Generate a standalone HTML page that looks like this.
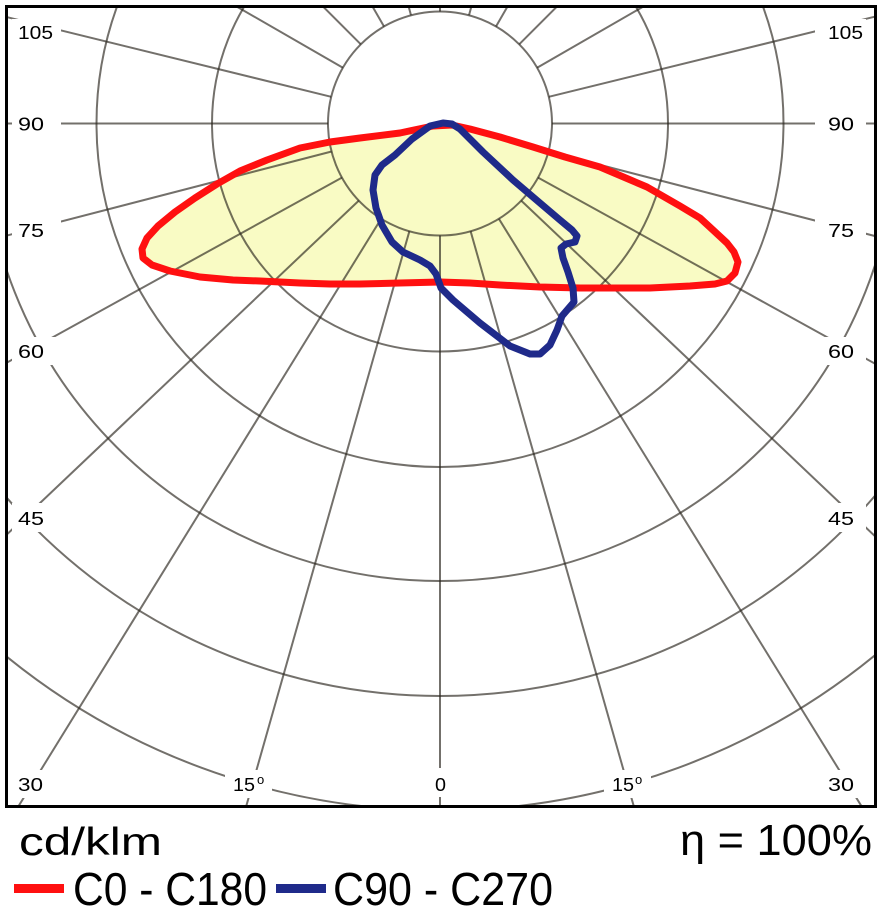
<!DOCTYPE html>
<html><head><meta charset="utf-8"><style>
html,body{margin:0;padding:0;background:#fff;width:881px;height:923px;overflow:hidden;}
svg{display:block;}
text{font-family:"Liberation Sans",sans-serif;fill:#000;}
</style></head><body>
<svg width="881" height="923" viewBox="0 0 881 923" xmlns="http://www.w3.org/2000/svg" overflow="hidden">
<defs><clipPath id="cp"><rect x="8" y="8" width="866" height="797"/></clipPath></defs>
<rect x="0" y="0" width="881" height="923" fill="#fff"/>
<g clip-path="url(#cp)">
<path d="M433,126 L452,125 L470,129 L500,137 L533,147 L565,157 L600,167 L647,187 L680,206 L700,218 L713,230 L727,243 L734,252 L738,262 L735,273 L727,281 L715,284 L690,286 L650,288 L613,288 L580,288 L540,287 L500,285 L470,283 L440,282 L400,283 L360,284 L330,284 L300,283 L260,281 L233,280 L200,277 L170,271 L152,265 L143,258 L142,249 L147,238 L158,226 L175,212 L195,198 L217,184 L240,171 L267,160 L300,148 L330,142 L360,138 L400,133 Z" fill="#f9fbc4" stroke="none"/>
<g stroke="rgb(40,36,28)" stroke-opacity="0.65" stroke-width="2" fill="none">
<circle cx="440" cy="123.5" r="112"/>
<circle cx="440" cy="123.5" r="228"/>
<circle cx="440" cy="123.5" r="343.5"/>
<circle cx="440" cy="123.5" r="457.5"/>
<circle cx="440" cy="123.5" r="572.5"/>
<path d="M4,654.4 A687,687 0 0 0 876,654.4"/>
<line x1="440" y1="235.5" x2="440" y2="807"/>
<line x1="440" y1="11.5" x2="440" y2="6"/>
<line x1="470.6" y1="231.2" x2="634" y2="807"/>
<line x1="409.4" y1="231.2" x2="246" y2="807"/>
<line x1="498.9" y1="218.8" x2="862" y2="807"/>
<line x1="381.1" y1="218.8" x2="18" y2="807"/>
<line x1="521.2" y1="200.6" x2="876" y2="537.2"/>
<line x1="358.8" y1="200.6" x2="4" y2="537.2"/>
<line x1="538.1" y1="177.6" x2="876" y2="364.2"/>
<line x1="341.9" y1="177.6" x2="4" y2="364.2"/>
<line x1="548.4" y1="151.5" x2="876" y2="236.3"/>
<line x1="331.6" y1="151.5" x2="4" y2="236.3"/>
<line x1="552" y1="123.5" x2="876" y2="123.5"/>
<line x1="328" y1="123.5" x2="4" y2="123.5"/>
<line x1="548.8" y1="96.8" x2="876" y2="16.4"/>
<line x1="331.2" y1="96.8" x2="4" y2="16.4"/>
<line x1="537.1" y1="67.7" x2="644.3" y2="6"/>
<line x1="342.9" y1="67.7" x2="235.7" y2="6"/>
<line x1="519.2" y1="44.3" x2="557.5" y2="6"/>
<line x1="360.8" y1="44.3" x2="322.5" y2="6"/>
<line x1="496" y1="26.5" x2="507.8" y2="6"/>
<line x1="384" y1="26.5" x2="372.2" y2="6"/>
<line x1="469" y1="15.3" x2="471.5" y2="6"/>
<line x1="411" y1="15.3" x2="408.5" y2="6"/>
</g>
<path d="M433,126 L452,125 L470,129 L500,137 L533,147 L565,157 L600,167 L647,187 L680,206 L700,218 L713,230 L727,243 L734,252 L738,262 L735,273 L727,281 L715,284 L690,286 L650,288 L613,288 L580,288 L540,287 L500,285 L470,283 L440,282 L400,283 L360,284 L330,284 L300,283 L260,281 L233,280 L200,277 L170,271 L152,265 L143,258 L142,249 L147,238 L158,226 L175,212 L195,198 L217,184 L240,171 L267,160 L300,148 L330,142 L360,138 L400,133 Z" fill="none" stroke="#ff1010" stroke-width="7" stroke-linejoin="round"/>
<path d="M443,123 L452,124 L460,129 L483,152 L513,180 L540,203 L560,220 L572,230 L577,236 L575,242 L566,244 L561,248 L563,258 L568,272 L573,288 L574,302 L568,309 L562,316 L557,330 L550,345 L540,354 L530,354 L510,346 L480,323 L453,300 L441,288 L436,274 L430,266 L420,260 L403,252 L392,242 L382,225 L376,208 L373,190 L375,175 L382,165 L395,155 L412,139 L430,126 Z" fill="none" stroke="#1f2a8a" stroke-width="7" stroke-linejoin="round"/>
</g>
<g fill="#fff" stroke="none">
<rect x="12" y="19" width="49" height="27"/>
<rect x="12" y="110" width="49" height="28"/>
<rect x="12" y="216" width="49" height="28"/>
<rect x="12" y="337" width="49" height="28"/>
<rect x="12" y="503" width="49" height="29"/>
<rect x="12" y="770" width="49" height="28"/>
<rect x="815" y="19" width="51" height="27"/>
<rect x="815" y="110" width="51" height="28"/>
<rect x="815" y="216" width="51" height="28"/>
<rect x="815" y="337" width="51" height="28"/>
<rect x="815" y="503" width="51" height="29"/>
<rect x="815" y="770" width="51" height="28"/>
<rect x="225" y="770" width="47" height="28"/>
<rect x="604" y="770" width="47" height="28"/>
<rect x="428" y="768" width="25" height="29"/>
</g>
<g font-size="18">
<text x="18" y="39" textLength="35" lengthAdjust="spacingAndGlyphs">105</text>
<text x="18" y="130.5" textLength="26" lengthAdjust="spacingAndGlyphs">90</text>
<text x="18" y="237" textLength="26" lengthAdjust="spacingAndGlyphs">75</text>
<text x="18" y="358" textLength="26" lengthAdjust="spacingAndGlyphs">60</text>
<text x="18" y="525" textLength="26" lengthAdjust="spacingAndGlyphs">45</text>
<text x="18" y="791" textLength="25" lengthAdjust="spacingAndGlyphs">30</text>
<text x="828" y="39" textLength="35" lengthAdjust="spacingAndGlyphs">105</text>
<text x="828" y="130.5" textLength="26" lengthAdjust="spacingAndGlyphs">90</text>
<text x="828" y="237" textLength="26" lengthAdjust="spacingAndGlyphs">75</text>
<text x="828" y="358" textLength="26" lengthAdjust="spacingAndGlyphs">60</text>
<text x="828" y="525" textLength="26" lengthAdjust="spacingAndGlyphs">45</text>
<text x="828" y="791" textLength="26" lengthAdjust="spacingAndGlyphs">30</text>
<text x="233" y="791" textLength="22" lengthAdjust="spacingAndGlyphs">15</text>
<text x="257" y="784" font-size="13">o</text>
<text x="612" y="791" textLength="22" lengthAdjust="spacingAndGlyphs">15</text>
<text x="635" y="784" font-size="13">o</text>
<text x="435" y="791" textLength="11" lengthAdjust="spacingAndGlyphs">0</text>
</g>
<rect x="6.5" y="6.5" width="869" height="800" fill="none" stroke="#000" stroke-width="3"/>
<text x="19" y="855" font-size="39" textLength="143" lengthAdjust="spacingAndGlyphs">cd/klm</text>
<text x="680" y="855" font-size="44" textLength="192" lengthAdjust="spacingAndGlyphs">η = 100%</text>
<rect x="14" y="884" width="50" height="9" fill="#ff1010"/>
<text x="73" y="905" font-size="46" textLength="194" lengthAdjust="spacingAndGlyphs">C0 - C180</text>
<rect x="276" y="884" width="50" height="9" fill="#1f2a8a"/>
<text x="333" y="905" font-size="46" textLength="220" lengthAdjust="spacingAndGlyphs">C90 - C270</text>
</svg>
</body></html>
